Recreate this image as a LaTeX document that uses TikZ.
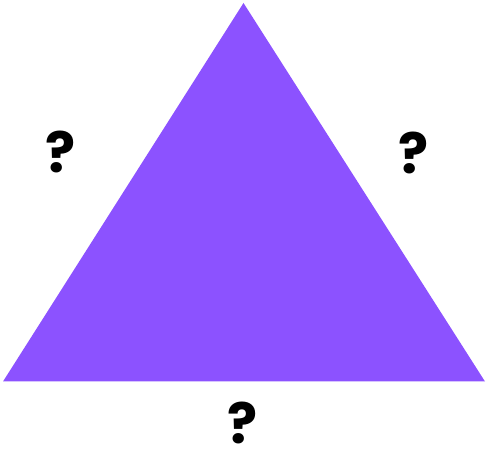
\documentclass[tikz,border=0pt]{standalone}
\usepackage{fontspec}
\setmainfont{Poppins}[BoldFont={* Bold}]
\definecolor{tripurple}{HTML}{8C52FF}
\tikzset{qmark/.style={font=\fontsize{56}{56}\selectfont\bfseries, text=black, inner sep=0pt, anchor=base, text depth=0pt}}
\begin{document}
\begin{tikzpicture}[x=1pt,y=-1pt]
\useasboundingbox (0,0) rectangle (488,449);
\coordinate (top) at (243.5,3);
\coordinate (bl) at (3,381.5);
\coordinate (br) at (485,381.5);
\fill[tripurple] (top) -- (br) -- (bl) -- cycle;
\node[qmark] (qleft) at (61,173) {?};
\node[qmark] (qright) at (414,174) {?};
\node[qmark] (qbottom) at (243,443) {?};
\end{tikzpicture}
\end{document}
